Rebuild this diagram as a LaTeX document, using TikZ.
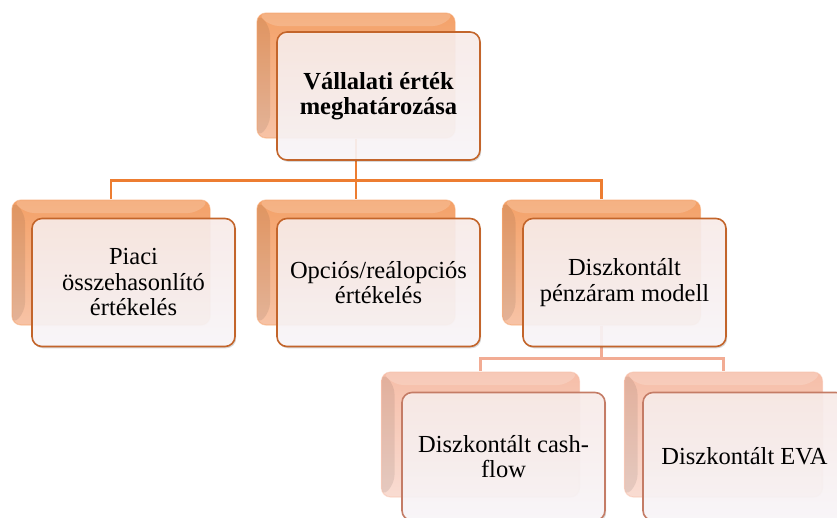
\documentclass[tikz,border=0pt]{standalone}
\usepackage{fontspec}
\setmainfont{Liberation Serif}
\usetikzlibrary{calc,shadows}

\definecolor{lineA}{HTML}{ED7D31}
\definecolor{lineB}{HTML}{F2AC94}
\definecolor{edgeA}{HTML}{C3652B}
\definecolor{edgeB}{HTML}{C47C66}
\definecolor{backAtop}{HTML}{F4A168}
\definecolor{backAbot}{HTML}{F7C3A6}
\definecolor{backBtop}{HTML}{F6BEA8}
\definecolor{backBbot}{HTML}{F9DCD2}
\definecolor{faceTop}{HTML}{FBEEEB}
\definecolor{faceBot}{HTML}{FBF8FB}

\tikzset{
  backbox/.style 2 args={rounded corners=9pt, minimum width=198pt,
    minimum height=125pt, inner sep=0pt, top color=#1, bottom color=#2,
    draw=#1, draw opacity=0.45, line width=1.2pt,
    path picture={
      \fill[black, opacity=0.08]
        (path picture bounding box.north west)
        -- ([xshift=13pt,yshift=-13pt]path picture bounding box.north west)
        -- ([xshift=13pt,yshift=13pt]path picture bounding box.south west)
        -- (path picture bounding box.south west) -- cycle;
      \fill[white, opacity=0.18]
        (path picture bounding box.north west)
        -- (path picture bounding box.north east)
        -- ([xshift=-13pt,yshift=-13pt]path picture bounding box.north east)
        -- ([xshift=13pt,yshift=-13pt]path picture bounding box.north west) -- cycle;
    }},
  backA/.style={backbox={backAtop}{backAbot}},
  backB/.style={backbox={backBtop}{backBbot}},
  frontbox/.style={rounded corners=10pt, minimum width=203pt,
    minimum height=128pt, inner sep=4pt, align=center,
    top color=faceTop, bottom color=faceBot, fill opacity=0.9,
    text opacity=1, draw=#1, draw opacity=1, line width=1.6pt,
    drop shadow={shadow xshift=1.2pt, shadow yshift=-1.8pt,
      opacity=0.22, fill=black!70},
    font=\fontsize{24.5}{25.5}\selectfont},
  frontA/.style={frontbox=edgeA},
  frontB/.style={frontbox=edgeB},
  linkA/.style={draw=lineA, line width=2.4pt},
  linkB/.style={draw=lineB, line width=2.4pt},
}

\begin{document}
\begin{tikzpicture}[x=1pt,y=-1pt]
\clip (0,0) rectangle (837,517);

% back (bevelled) boxes
\node[backA] (b1) at (356,75.5) {};
\node[backA] (b2) at (111,262.5) {};
\node[backA] (b3) at (356,262.5) {};
\node[backA] (b4) at (601.5,262.5) {};
\node[backB] (b5) at (480.5,434.5) {};
\node[backB] (b6) at (723.5,434.5) {};

% connectors, running from the centre of the back boxes
\coordinate (j1) at ($(b1.south)+(0,42)$);
\coordinate (j2) at ($(b4.south)+(0,33)$);
\draw[linkA] (b1.south) -- (j1);
\draw[linkA] (j1) -| (b2.north);
\draw[linkA] (j1) -| (b3.north);
\draw[linkA] (j1) -| (b4.north);
\draw[linkB] (b4.south) -- (j2);
\draw[linkB] (j2) -| (b5.north);
\draw[linkB] (j2) -| (b6.north);

% front boxes with the labels
\node[frontA] (f1) at (378.5,96) {\bfseries V\'allalati \'ert\'ek\\\bfseries meghat\'aroz\'asa};
\node[frontA] (f2) at (133.5,282.5) {Piaci\\ összehasonlító\\ értékelés};
\node[frontA] (f3) at (378.5,282.5) {Opciós/reálopciós\\ értékelés};
\node[frontA] (f4) at (624.5,282.5) {Diszkontált\\ pénzáram modell};
\node[frontB] (f5) at (503.5,456.5) {Diszkontált cash-\\ flow};
\node[frontB] (f6) at (744.5,456.5) {Diszkontált EVA};
\end{tikzpicture}
\end{document}
